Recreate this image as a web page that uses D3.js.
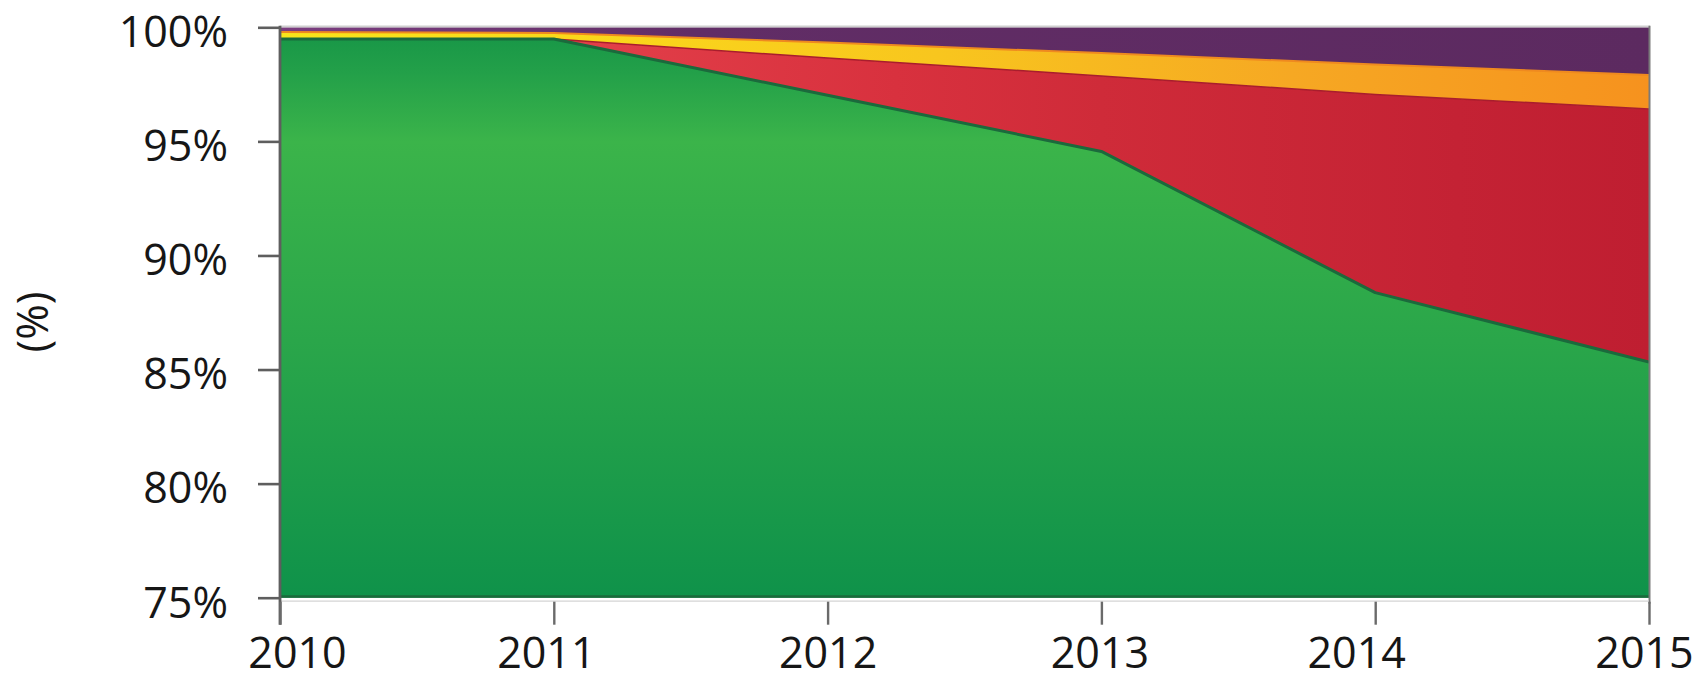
<!DOCTYPE html>
<html>
<head>
<meta charset="utf-8">
<script src="https://cdn.jsdelivr.net/npm/d3@7"></script>
<style>
  html, body { margin: 0; padding: 0; background: #fff; }
  svg { display: block; }
  text { font-family: "Open Sans", "Noto Sans", sans-serif; fill: #161616; }
</style>
</head>
<body>
<script>
// ---------- data (percent share) ----------
const years = [2010, 2011, 2012, 2013, 2014, 2015];
const seriesKeys = ["green", "red", "yellow", "purple"];
const greenValues  = [99.49, 99.49, 97.02, 94.56, 88.37, 85.33];
const redValues    = [0.00, 0.00, 1.63, 3.31, 8.69, 11.09];
const yellowValues = [0.30, 0.26, 0.68, 1.00, 1.31, 1.49];
const purpleValues = [0.21, 0.25, 0.67, 1.13, 1.63, 2.09];
const yTickValues = [75, 80, 85, 90, 95, 100];
const yTickLabels = ["75%", "80%", "85%", "90%", "95%", "100%"];
const xTickLabels = ["2010", "2011", "2012", "2013", "2014", "2015"];
const yTitle = "(%)";

// ---------- layout / style ----------
const W = 1699, H = 681;
const pLeft = 280, pRight = 1649, pTop = 27.3, pBottom = 597.7;
const xLabelNudge = [17, -8, 0, -2, -19, -5];

const rows = years.map((yr, i) => ({
  year: yr,
  green: greenValues[i],
  red: redValues[i],
  yellow: yellowValues[i],
  purple: purpleValues[i]
}));

const x = d3.scaleLinear().domain([years[0], years[years.length - 1]]).range([pLeft, pRight]);
const y = d3.scaleLinear().domain([75, 100]).range([pBottom, pTop]);

const svg = d3.select("body").append("svg").attr("width", W).attr("height", H);
const defs = svg.append("defs");

defs.append("clipPath").attr("id", "plotClip")
  .append("rect").attr("x", pLeft).attr("y", pTop - 1).attr("width", pRight - pLeft).attr("height", pBottom - pTop + 1);

function hGrad(id, stops) {
  const g = defs.append("linearGradient").attr("id", id)
    .attr("gradientUnits", "userSpaceOnUse")
    .attr("x1", pLeft).attr("x2", pRight).attr("y1", 0).attr("y2", 0);
  stops.forEach(([o, c]) => g.append("stop").attr("offset", o).attr("stop-color", c));
}
function vGrad(id, stops) {
  const g = defs.append("linearGradient").attr("id", id)
    .attr("gradientUnits", "userSpaceOnUse")
    .attr("x1", 0).attr("x2", 0).attr("y1", pTop).attr("y2", pBottom);
  stops.forEach(([o, c]) => g.append("stop").attr("offset", o).attr("stop-color", c));
}
vGrad("gGreen", [[0, "#169547"], [0.08, "#23a049"], [0.2, "#3bb44a"], [0.55, "#2aa64a"], [1, "#0f924a"]]);
hGrad("gRed", [[0, "#e5434c"], [0.2, "#e3404a"], [0.45, "#d8313e"], [0.6, "#cf2b39"], [0.86, "#c42234"], [1, "#bf1e31"]]);
hGrad("gYellow", [[0, "#f8e51b"], [0.2, "#fad91b"], [0.48, "#f8c61e"], [0.74, "#f6a823"], [1, "#f6921e"]]);
hGrad("gPurple", [[0, "#7b3d80"], [0.3, "#612d66"], [1, "#5c2a60"]]);

const fills = { green: "url(#gGreen)", red: "url(#gRed)", yellow: "url(#gYellow)", purple: "url(#gPurple)" };
const strokes = { green: ["#1b6a3c", 3], red: ["#a91d2d", 1.5], yellow: ["#ef8a1f", 2], purple: null };

const stacked = d3.stack().keys(seriesKeys)(rows);

const area = d3.area()
  .x(d => x(d.data.year))
  .y0(d => y(d[0]))
  .y1(d => y(d[1]));
const topLine = d3.line()
  .x(d => x(d.data.year))
  .y(d => y(d[1]));

const plot = svg.append("g").attr("clip-path", "url(#plotClip)");
plot.selectAll("path.area").data(stacked).join("path")
  .attr("class", "area")
  .attr("d", area)
  .attr("fill", s => fills[s.key]);

// top-edge strokes, drawn top series first so green's edge ends up on top
const strokeOrder = ["purple", "yellow", "red", "green"];
strokeOrder.forEach(k => {
  const s = stacked.find(t => t.key === k);
  if (!strokes[k]) return;
  plot.append("path").attr("d", topLine(s))
    .attr("fill", "none")
    .attr("stroke", strokes[k][0])
    .attr("stroke-width", strokes[k][1])
    .attr("stroke-linejoin", "round");
});

// green bottom edge
plot.append("line")
  .attr("x1", pLeft).attr("x2", pRight)
  .attr("y1", y(75) - 1).attr("y2", y(75) - 1)
  .attr("stroke", "#1b6a3c").attr("stroke-width", 3);

// frame: top (light) and right
svg.append("line").attr("x1", pLeft).attr("x2", pRight + 1)
  .attr("y1", pTop - 0.8).attr("y2", pTop - 0.8)
  .attr("stroke", "#cfcfcf").attr("stroke-width", 2);
svg.append("line").attr("x1", pRight + 0.5).attr("x2", pRight + 0.5)
  .attr("y1", pTop - 1.5).attr("y2", pBottom + 6)
  .attr("stroke", "#7a7a7a").attr("stroke-width", 2);
svg.append("line").attr("x1", pLeft).attr("x2", pRight)
  .attr("y1", pBottom + 3.5).attr("y2", pBottom + 3.5)
  .attr("stroke", "#d4d4d4").attr("stroke-width", 1.2);

// ---------- y axis ----------
const yAxis = d3.axisLeft(y)
  .tickValues(yTickValues)
  .tickFormat((d, i) => yTickLabels[i])
  .tickSize(22)
  .tickSizeOuter(0)
  .tickPadding(30);
const gy = svg.append("g").attr("transform", `translate(${pLeft},0)`).call(yAxis);
gy.select(".domain").remove();
gy.selectAll(".tick line").attr("stroke", "#5e5e5e").attr("stroke-width", 2.6);
gy.selectAll(".tick text")
  .attr("font-size", 43)
  .attr("dy", "0.45em")
  .attr("fill", "#161616")
  .style("font-family", '"Open Sans", "Noto Sans", sans-serif');

// y axis line (extends down as the 2010 tick)
svg.append("line").attr("x1", pLeft).attr("x2", pLeft)
  .attr("y1", pTop - 1.5).attr("y2", pBottom + 27)
  .attr("stroke", "#5e5e5e").attr("stroke-width", 2.8);

// ---------- x axis ----------
const xAxis = d3.axisBottom(x)
  .tickValues(years)
  .tickFormat((d, i) => xTickLabels[i])
  .tickSize(23)
  .tickSizeOuter(0);
const gx = svg.append("g").attr("transform", `translate(0,${pBottom + 4})`).call(xAxis);
gx.select(".domain").remove();
gx.selectAll(".tick line").attr("stroke", "#6a6a6a").attr("stroke-width", 2.4);
gx.selectAll(".tick text")
  .attr("font-size", 43)
  .attr("y", 66.3)
  .attr("dy", 0)
  .attr("dx", (d, i) => xLabelNudge[i])
  .attr("fill", "#161616")
  .style("font-family", '"Open Sans", "Noto Sans", sans-serif');

// ---------- y title ----------
svg.append("text")
  .attr("transform", `translate(48,322) rotate(-90)`)
  .attr("text-anchor", "middle")
  .attr("font-size", 43)
  .text(yTitle);
</script>
</body>
</html>
